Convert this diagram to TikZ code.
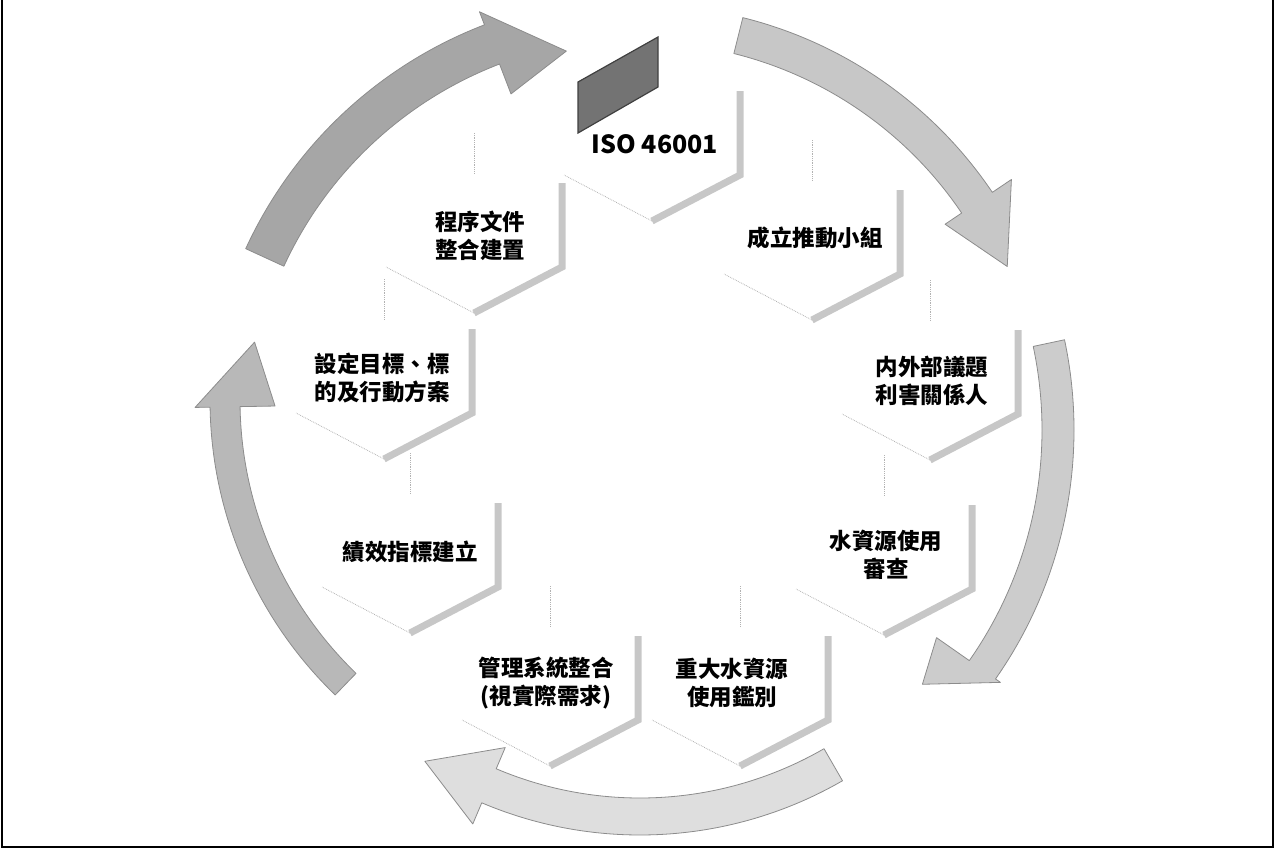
\documentclass[tikz,border=0pt]{standalone}
\usepackage{fontspec}
\newfontfamily\cjk{Noto Sans CJK TC}
\usetikzlibrary{calc}

\tikzset{
  lbl/.style={font=\cjk\bfseries\fontsize{22.5}{28}\selectfont, align=center, inner sep=0pt},
  hexedge/.style={draw=black!22, line width=7, line join=miter},
  hexfaint/.style={draw=black!30, line width=0.8, densely dotted},
  band/.style={draw=black!45, line width=0.8, line join=round},
}

\newcommand{\bigarrow}[9]{%
  \filldraw[band, fill=#1, shift={(640,430)}]
    (#4:#3) arc[start angle=#4, end angle=#5, radius=#3]
    -- (#5:#8) -- (#6:#9) -- (#5:#7) -- (#5:#2)
    arc[start angle=#5, end angle=#4, radius=#2] -- cycle;
}

\begin{document}
\begin{tikzpicture}[x=1pt, y=-1pt]
\useasboundingbox (0,0) rectangle (1282,854);
\draw[black, line width=2] (2,0) -- (2,847) -- (1273,847) -- (1273,0);

\bigarrow{black!35}{392}{434}{204.7}{249}{259}{360}{448}{386}
\bigarrow{black!22}{388}{425}{284}{326}{336}{368}{448}{402}
\bigarrow{black!20}{402}{434}{348}{395}{402}{362}{440}{380}
\bigarrow{black!13}{368}{405}{60}{113}{123}{345}{428}{395}
\begin{scope}[shift={(-20,-30)}]
\bigarrow{black!28}{380}{410}{134}{179}{189}{345}{425}{370}
\end{scope}

\foreach \x/\y in {652/133, 812/232, 930/372, 884/547, 740/678, 550/678, 410/545, 384/371, 474/225} {
  \draw[hexedge] (\x+88,\y-42) -- (\x+88,\y+42) -- (\x,\y+88);
  \draw[hexfaint] (\x,\y+88) -- (\x-88,\y+42);
  \draw[hexfaint] (\x,\y-92) -- (\x,\y-52);
}

\filldraw[fill=black!55, draw=black!75, line width=1.2] (578,82) -- (658,37) -- (658,87) -- (578,133) -- cycle;

\node[lbl, font=\cjk\bfseries\fontsize{25}{28}\selectfont] (iso) at (655,144) {ISO 46001};
\node[lbl] (team) at (815,238) {成立推動小組};
\node[lbl] (issue) at (932,381) {内外部議題\\利害關係人};
\node[lbl] (review) at (886,555) {水資源使用\\審查};
\node[lbl] (major) at (732,683) {重大水資源\\使用鑑別};
\node[lbl] (integ) at (546,683) {管理系統整合\\(視實際需求)};
\node[lbl] (kpi) at (410,552) {績效指標建立};
\node[lbl] (goal) at (382,378) {設定目標、標\\的及行動方案};
\node[lbl] (doc) at (480,236) {程序文件\\整合建置};
\end{tikzpicture}
\end{document}
